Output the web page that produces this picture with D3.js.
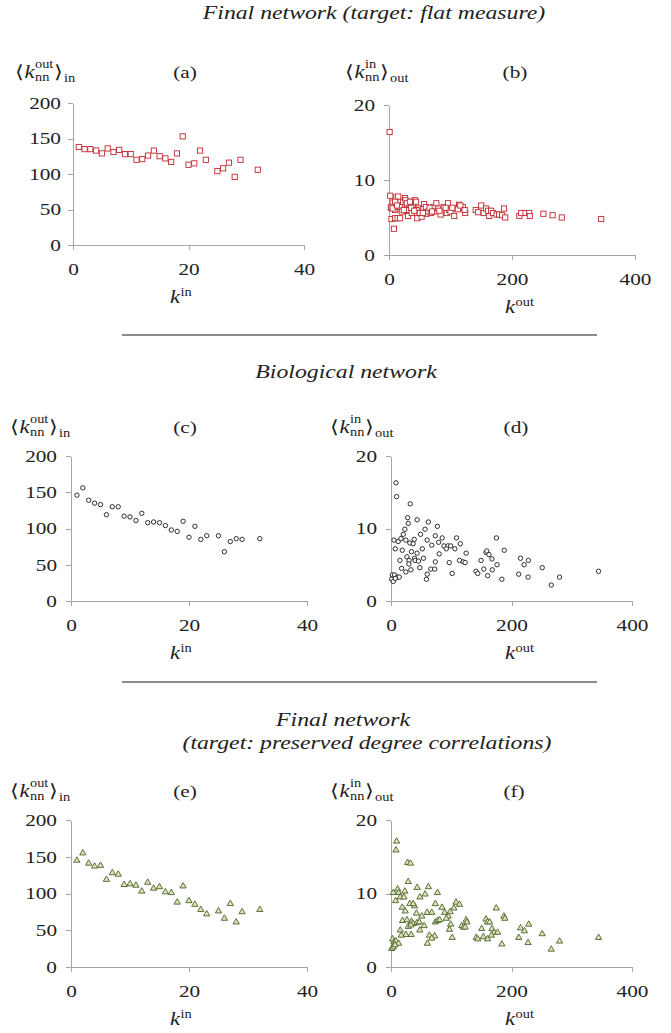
<!DOCTYPE html>
<meta charset="utf-8">
<style>
body { margin: 0; background: #fff; }
svg text { font-family: "Liberation Serif", "Times New Roman", "DejaVu Serif", serif; fill: #222; }
.axis path, .axis line { fill: none; stroke: #a6a6a6; shape-rendering: crispEdges; }
</style>
<body>
<div id="chart"></div>
<script src="https://d3js.org/d3.v7.min.js"></script>
<script>

// ---- data ----
// (a) final network, flat measure: <k_nn^out>_in vs k^in
var kinA = [1,2,3,4,5,6,7,8,9,10,11,12,13,14,15,16,17,18,19,20,21,22,23,25,26,27,28,29,32];
var knnA = [138,135,135,133,129,136,131,134,128,128,120,121,126,133,125,122,117,129,153,113,115,133,120,104,108,116,96,120,106];

// (b) final network, flat measure: <k_nn^in>_out vs k^out
var koutB = [1,2,3,4,6,8,10,10,12,15,14,18,17,21,23,26,27,30,31,33,34,37,38,39,42,44,46,48,50,53,56,57,60,61,64,68,72,74,77,80,84,89,94,96,98,100,106,109,114,118,120,124,141,145,150,154,158,161,163,166,169,175,179,184,187,189,212,215,222,228,229,251,266,281,345,
             10,4,18,29,34,44,21,31,37,45,50,6,13,24,36,41,55,66,70,82,92,103,112,116,123];
var knnB = [16.4,7.9,6.3,4.8,7.0,3.5,6.0,4.9,7.7,7.8,4.9,4.9,6.2,6.4,7.1,7.6,7.3,6.5,5.2,6.9,6.2,7.1,5.8,6.7,7.3,5.6,4.9,6.2,5.8,5.1,6.2,6.8,6.4,5.5,5.8,5.6,6.4,5.8,6.9,6.2,5.4,6.4,5.6,6.9,6.0,5.8,5.2,6.2,6.7,6.2,6.4,5.6,6.0,5.7,6.6,5.6,6.2,5.9,5.2,5.9,5.6,5.4,5.4,5.3,6.2,5.0,5.2,5.6,5.6,5.6,5.2,5.5,5.3,5.0,4.8,
            7.1,6.4,6.4,6.9,7.1,7.1,5.8,6.0,5.6,6.0,5.6,6.2,6.6,6.0,6.3,5.9,5.6,6.3,5.8,5.9,6.3,6.3,6.1,6.6,6.0];

// (c) biological network
var kinC = [1,2,3,4,5,6,7,8,9,10,11,12,13,14,15,16,17,18,19,20,21,22,23,25,26,27,28,29,32];
var knnC = [146,156,139,135,133,119,130,130,117,116,111,121,108,109,108,104,98,96,110,88,103,85,90,90,68,82,86,85,86];

// (d) biological network
var koutD = [8.2,9.3,31.9,27.5,28.6,43.4,62,77,56.6,23,20.3,49,73.6,85,108.8,175,5,12,16.5,24.7,38.5,60,79,31.3,36.8,115,67.6,87.9,94.5,99,91.8,106,7,18.7,52,34,43.4,80,124.7,157.7,159,162.6,188,26.4,39,53.8,30,40,45.6,14.8,73.6,96.7,113.7,119.8,123,149.5,167.6,215,228,221,176,29.7,47.8,17.6,66,72.5,33,24.7,154,168,141,144,251,344.5,60,101.6,160.4,212,227.5,279.7,266,184,58.8,2.2,6,10.4,13.7,1.1,3.8,7];
var knnD = [16.3,14.4,13.4,11.5,10.7,11.2,10.9,10.3,9.9,9.9,9.2,9.2,9.0,8.7,8.7,8.7,8.4,8.2,8.6,8.4,8.5,8.4,8.1,8.0,7.9,7.9,7.7,7.6,7.6,7.6,7.2,7.2,7.2,7.0,7.2,6.8,6.6,6.5,6.6,6.7,6.9,6.4,7.0,6.1,5.9,5.9,5.6,5.6,5.5,5.6,5.4,5.3,5.6,5.4,5.3,5.6,5.8,5.9,5.6,5.0,5.0,5.1,4.6,4.5,4.4,4.4,4.3,4.0,4.4,4.3,4.1,3.8,4.6,4.1,3.7,3.8,3.5,3.7,3.3,3.3,2.2,3.0,3.0,3.6,3.6,3.3,3.3,3.0,2.7,3.1];

// (e) final network, preserved degree correlations
var kinE = [1,2,3,4,5,6,7,8,9,10,11,12,13,14,15,16,17,18,19,20,21,22,23,25,26,27,28,29,32];
var knnE = [145,155,141,137,138,119,128,126,112,113,111,103,115,107,109,102,101,88,110,90,85,78,72,76,66,86,61,75,78];

// (f) final network, preserved degree correlations
var koutF = [9.3,8.2,27.5,32.4,28.6,11,3.8,12.6,23,43.4,62,56.6,77,7.7,15.4,21.4,48,108,113.7,104.4,73.6,84.6,174.7,18.7,23.6,31.3,39,36.8,42.3,60,67.6,89,98,95,91.8,51,19.2,26.4,34,36.8,43,47,28.6,33,55,73.6,77.4,80.7,124.7,126,117.6,120.3,123,99,97,157.7,160,163.7,187.4,189,150.5,167.6,171.4,177,215,221.4,228.6,15.4,33.5,24.7,17,47.8,63.7,72.5,67.6,60.4,101.6,141.4,144,153.3,160.4,166.5,184,212,227.5,251,266,279.7,344.5,2.7,5,8.2,12.6,1.1,3.8,6.6];
var knnF = [17.1,15.9,14.2,14.1,11.6,10.6,10.1,10.1,10.3,10.8,10.9,9.9,10.1,9.0,9.5,9.5,9.5,8.8,8.5,8.0,8.6,8.1,8.0,8.1,7.6,8.6,8.3,8.6,7.3,7.4,7.4,7.4,7.5,6.9,6.6,6.9,6.3,6.4,6.2,5.9,6.0,6.1,5.5,5.7,5.6,6.1,6.3,6.4,6.4,6.1,5.6,5.4,5.4,5.8,5.1,6.5,6.1,6.1,6.9,6.6,5.2,5.2,4.7,4.7,5.3,4.9,5.8,5.0,4.4,4.4,4.3,5.0,4.3,4.2,3.9,3.2,4.0,4.0,3.8,4.1,3.8,4.3,3.1,4.0,3.3,4.5,2.4,3.5,4.0,3.8,3.4,3.5,3.2,2.5,2.7,3.0];

var inTicksX = [0, 20, 40], inTicksY = [0, 50, 100, 150, 200];
var outTicksX = [0, 200, 400], outTicksY = [0, 10, 20];

// text in the original figure is stretched sideways
var SX = 1.25;

var svg = d3.select("#chart").append("svg")
    .attr("width", 671)
    .attr("height", 1033);

function stretched(parent, x, y) {
  return parent.append("g")
    .attr("transform", "translate(" + x + "," + y + ") scale(" + SX + ",1)");
}

// <k_nn^sup>_outer  (or k^sup when no outer)
function kLabel(x, y, sup, sub, outer) {
  var g = stretched(svg, x, y), cx = 0;
  function piece(str, size, dy, italic) {
    var t = g.append("text").attr("x", cx).attr("y", dy)
      .style("font-size", size + "px").text(str);
    if (italic) t.style("font-style", "italic");
    return t.node().getComputedTextLength();
  }
  if (outer) cx += piece("\u27e8", 18, 0) + 0.5;
  cx += piece("k", 18, 0, true) + 0.5;
  var w1 = piece(sup, 11.5, sub ? -10.5 : -7.5), w2 = sub ? piece(sub, 11.5, 3) : 0;
  cx += Math.max(w1, w2) + 0.5;
  if (outer) {
    cx += piece("\u27e9", 18, 0) + 1;
    piece(outer, 11.5, 4);
  }
}

function title(x, y, str) {
  stretched(svg, x, y).append("text")
    .attr("text-anchor", "middle")
    .style("font-size", "19px")
    .style("font-style", "italic")
    .text(str);
}

function panel(o) {
  var x = d3.scaleLinear().domain([0, o.xTicks[2]]).range([o.left, o.right]);
  var y = d3.scaleLinear().domain([0, o.yTicks[o.yTicks.length - 1]]).range([o.bottom, o.top]);

  var gx = svg.append("g").attr("class", "axis")
    .attr("transform", "translate(0," + o.bottom + ")")
    .call(d3.axisBottom(x).tickValues(o.xTicks).tickSize(5).tickSizeOuter(0).tickPadding(13).tickFormat(d3.format("d")));
  gx.selectAll("text").style("font-size", "17px").attr("transform", "scale(" + SX + ",1)");

  var gy = svg.append("g").attr("class", "axis")
    .attr("transform", "translate(" + o.left + ",0)")
    .call(d3.axisLeft(y).tickValues(o.yTicks).tickSize(5).tickSizeOuter(0).tickFormat(d3.format("d")));
  gy.selectAll("text").style("font-size", "17px")
    .attr("x", null)
    .attr("transform", "translate(" + (-o.gap) + ",0) scale(" + SX + ",1)");

  var pts = o.xs.map(function (v, i) { return [v, o.ys[i]]; });
  var g = svg.append("g");

  if (o.marker === "square") {
    g.selectAll("rect").data(pts).enter().append("rect")
      .attr("x", function (d) { return x(d[0]) - 2.6; })
      .attr("y", function (d) { return y(d[1]) - 2.6; })
      .attr("width", 5.2).attr("height", 5.2)
      .attr("fill", "#fff").attr("stroke", "#c0282d").attr("stroke-width", 0.9);
  } else if (o.marker === "circle") {
    g.selectAll("circle").data(pts).enter().append("circle")
      .attr("cx", function (d) { return x(d[0]); })
      .attr("cy", function (d) { return y(d[1]); })
      .attr("r", 2.2)
      .attr("fill", "#fff").attr("stroke", "#1a1a1a").attr("stroke-width", 0.9);
  } else {
    g.selectAll("path").data(pts).enter().append("path")
      .attr("d", d3.symbol(d3.symbolTriangle).size(17))
      .attr("transform", function (d) { return "translate(" + x(d[0]) + "," + y(d[1]) + ")"; })
      .attr("fill", "#d8e4bc").attr("stroke", "#4f6228").attr("stroke-width", 0.9);
  }

  // panel letter
  stretched(svg, o.letterX, o.labelY).append("text")
    .attr("text-anchor", "middle").style("font-size", "17px").text(o.letter);

  // axis labels
  if (o.xTicks[2] === 40) kLabel(o.ylabX, o.labelY, "out", "nn", "in");
  else kLabel(o.ylabX, o.labelY, "in", "nn", "out");
  kLabel(o.xlabX, o.bottom + 58, o.xTicks[2] === 40 ? "in" : "out");
}

// titles and separators
title(374, 19, "Final network (target: flat measure)");
title(346, 378, "Biological network");
title(343, 726, "Final network");
title(367, 749, "(target: preserved degree correlations)");

[335, 682].forEach(function (yy) {
  svg.append("line").attr("x1", 122).attr("x2", 597).attr("y1", yy).attr("y2", yy)
    .attr("stroke", "#666").attr("stroke-width", 1.5);
});

panel({ xs: kinA, ys: knnA, xTicks: inTicksX, yTicks: inTicksY, marker: "square",
        left: 73, right: 304, top: 103, bottom: 245, gap: 12,
        letter: "(a)", letterX: 185, labelY: 78, ylabX: 15, xlabX: 170 });
panel({ xs: koutB, ys: knnB, xTicks: outTicksX, yTicks: outTicksY, marker: "square",
        left: 389, right: 635, top: 105, bottom: 255, gap: 14,
        letter: "(b)", letterX: 515, labelY: 78, ylabX: 345, xlabX: 505 });
panel({ xs: kinC, ys: knnC, xTicks: inTicksX, yTicks: inTicksY, marker: "circle",
        left: 71, right: 307, top: 456, bottom: 601, gap: 14,
        letter: "(c)", letterX: 185, labelY: 433, ylabX: 10, xlabX: 170 });
panel({ xs: koutD, ys: knnD, xTicks: outTicksX, yTicks: outTicksY, marker: "circle",
        left: 391, right: 632, top: 456, bottom: 601, gap: 14,
        letter: "(d)", letterX: 516, labelY: 433, ylabX: 330, xlabX: 505 });
panel({ xs: kinE, ys: knnE, xTicks: inTicksX, yTicks: inTicksY, marker: "triangle",
        left: 71, right: 307, top: 820, bottom: 967, gap: 14,
        letter: "(e)", letterX: 185, labelY: 797, ylabX: 10, xlabX: 170 });
panel({ xs: koutF, ys: knnF, xTicks: outTicksX, yTicks: outTicksY, marker: "triangle",
        left: 391, right: 632, top: 820, bottom: 967, gap: 14,
        letter: "(f)", letterX: 514, labelY: 797, ylabX: 330, xlabX: 505 });

</script>
</body>
